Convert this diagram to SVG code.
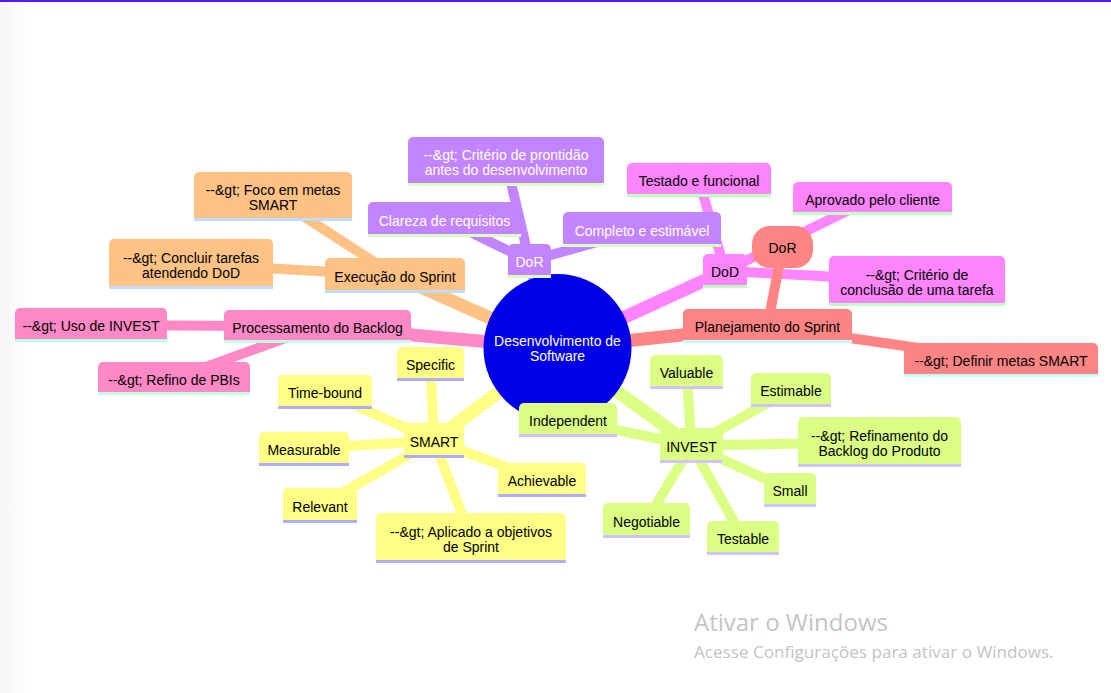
<svg xmlns="http://www.w3.org/2000/svg" width="1111" height="693" viewBox="0 0 1111 693">
<defs>
<linearGradient id="edge" x1="0" y1="0" x2="1" y2="0">
<stop offset="0" stop-color="#f5f5f5"/>
<stop offset="1" stop-color="#ffffff"/>
</linearGradient>
</defs>
<style>
text{font-family:"Liberation Sans",Arial,sans-serif;font-size:14px;text-anchor:middle;fill:#000}
.w{fill:#ffffff}
.o{fill:#FFC285}.os{fill:#BFDCFF}
.p{fill:#FF88C6}.ps{fill:#C2FFE2}
.u{fill:#C385FF}.us{fill:#D9FFC2}
.m{fill:#FF85FF}.ms{fill:#C2FFC2}
.r{fill:#FF8585}.rs{fill:#C2FFFF}
.y{fill:#FFFF85}.ys{fill:#AEAEFF}
.g{fill:#DBFF85}.gs{fill:#D2C2FF}
#edges line{stroke-linecap:butt;fill:none}
.e0{stroke-width:13}.e1{stroke-width:10}
.eo{stroke:#FFC285}.ep{stroke:#FF88C6}.eu{stroke:#C385FF}.em{stroke:#FF85FF}.er{stroke:#FF8585}.ey{stroke:#FFFF85}.eg{stroke:#DBFF85}
text.wm{font-family:"Open Sans","Liberation Sans",sans-serif;text-anchor:start;fill:#c4c4c4}
text.wm1{font-size:24px}
text.wm2{font-size:17.1px}
</style>
<rect x="0" y="0" width="1111" height="693" fill="#ffffff"/>
<rect x="0" y="0" width="30" height="693" fill="url(#edge)"/>
<rect x="0" y="0" width="1111" height="2" fill="#5B17F0"/>

<g id="edges">
<line class="e0 eo" x1="557.5" y1="348" x2="395" y2="275.5"/>
<line class="e0 ep" x1="557.5" y1="348" x2="317.5" y2="326.5"/>
<line class="e0 eu" x1="557.5" y1="348" x2="529.5" y2="261"/>
<line class="e0 em" x1="557.5" y1="348" x2="725" y2="271"/>
<line class="e0 er" x1="557.5" y1="348" x2="767.5" y2="326"/>
<line class="e0 ey" x1="557.5" y1="348" x2="434" y2="440.5"/>
<line class="e0 eg" x1="557.5" y1="348" x2="691.5" y2="445.5"/>
<line class="e1 eo" x1="395" y1="275.5" x2="273" y2="196.5"/>
<line class="e1 eo" x1="395" y1="275.5" x2="191" y2="264"/>
<line class="e1 ep" x1="317.5" y1="326.5" x2="91" y2="325"/>
<line class="e1 ep" x1="317.5" y1="326.5" x2="174" y2="378.5"/>
<line class="e1 eu" x1="529.5" y1="261" x2="506" y2="161.5"/>
<line class="e1 eu" x1="529.5" y1="261" x2="444.5" y2="219.5"/>
<line class="e1 eu" x1="529.5" y1="261" x2="642" y2="229.5"/>
<line class="e1 em" x1="725" y1="271" x2="699" y2="180"/>
<line class="e1 em" x1="725" y1="271" x2="872.5" y2="198.5"/>
<line class="e1 em" x1="725" y1="271" x2="917" y2="281"/>
<line class="e1 er" x1="767.5" y1="326" x2="782.5" y2="247"/>
<line class="e1 er" x1="767.5" y1="326" x2="1001" y2="360"/>
<line class="e1 ey" x1="434" y1="440.5" x2="430.5" y2="364"/>
<line class="e1 ey" x1="434" y1="440.5" x2="325" y2="392"/>
<line class="e1 ey" x1="434" y1="440.5" x2="304" y2="449"/>
<line class="e1 ey" x1="434" y1="440.5" x2="320" y2="505.5"/>
<line class="e1 ey" x1="434" y1="440.5" x2="471" y2="538"/>
<line class="e1 ey" x1="434" y1="440.5" x2="542" y2="480"/>
<line class="e1 eg" x1="691.5" y1="445.5" x2="686.5" y2="372"/>
<line class="e1 eg" x1="691.5" y1="445.5" x2="791" y2="390"/>
<line class="e1 eg" x1="691.5" y1="445.5" x2="568" y2="420"/>
<line class="e1 eg" x1="691.5" y1="445.5" x2="879.5" y2="442"/>
<line class="e1 eg" x1="691.5" y1="445.5" x2="790" y2="490"/>
<line class="e1 eg" x1="691.5" y1="445.5" x2="646.5" y2="520.5"/>
<line class="e1 eg" x1="691.5" y1="445.5" x2="743" y2="538"/>
</g>

<g id="root">
<circle cx="557.5" cy="348" r="74" fill="#0000E8"/>
<text class="w" x="557.5" y="346">Desenvolvimento de</text>
<text class="w" x="557.5" y="361">Software</text>
</g>

<!-- orange -->
<g id="n-foco"><rect class="o" x="194" y="172" width="158" height="46" rx="5"/><rect class="o" x="194" y="195" width="158" height="23"/><rect class="os" x="194" y="218" width="158" height="3"/><text x="273" y="195">--&amp;gt; Foco em metas</text><text x="273" y="210">SMART</text></g>
<g id="n-concluir"><rect class="o" x="109" y="239" width="164" height="47" rx="5"/><rect class="o" x="109" y="262" width="164" height="24"/><rect class="os" x="109" y="286" width="164" height="3"/><text x="191" y="262.5">--&amp;gt; Concluir tarefas</text><text x="191" y="277.5">atendendo DoD</text></g>
<g id="n-exec"><rect class="o" x="325" y="258" width="140" height="32" rx="5"/><rect class="o" x="325" y="274" width="140" height="16"/><rect class="os" x="325" y="290" width="140" height="3"/><text x="395" y="281.5">Execução do Sprint</text></g>

<!-- pink -->
<g id="n-uso"><rect class="p" x="15" y="308" width="152" height="31" rx="5"/><rect class="p" x="15" y="323" width="152" height="16"/><rect class="ps" x="15" y="339" width="152" height="3"/><text x="91" y="331">--&amp;gt; Uso de INVEST</text></g>
<g id="n-proc"><rect class="p" x="224" y="310" width="187" height="30" rx="5"/><rect class="p" x="224" y="325" width="187" height="15"/><rect class="ps" x="224" y="340" width="187" height="3"/><text x="317.5" y="332.5">Processamento do Backlog</text></g>
<g id="n-refino"><rect class="p" x="98" y="362" width="152" height="30" rx="5"/><rect class="p" x="98" y="377" width="152" height="15"/><rect class="ps" x="98" y="392" width="152" height="3"/><text x="174" y="384.5">--&amp;gt; Refino de PBIs</text></g>

<!-- purple -->
<g id="n-crit"><rect class="u" x="408" y="137" width="196" height="46" rx="5"/><rect class="u" x="408" y="160" width="196" height="23"/><rect class="us" x="408" y="183" width="196" height="3"/><text class="w" x="506" y="160">--&amp;gt; Critério de prontidão</text><text class="w" x="506" y="175">antes do desenvolvimento</text></g>
<g id="n-clareza"><rect class="u" x="368" y="202" width="153" height="32" rx="5"/><rect class="u" x="368" y="218" width="153" height="16"/><rect class="us" x="368" y="234" width="153" height="3"/><text class="w" x="444.5" y="225.5">Clareza de requisitos</text></g>
<g id="n-dorP"><rect class="u" x="508" y="244" width="43" height="31" rx="5"/><rect class="u" x="508" y="259" width="43" height="16"/><rect class="us" x="508" y="275" width="43" height="3"/><text class="w" x="529.5" y="267">DoR</text></g>
<g id="n-completo"><rect class="u" x="563" y="212" width="158" height="32" rx="5"/><rect class="u" x="563" y="228" width="158" height="16"/><rect class="us" x="563" y="244" width="158" height="3"/><text class="w" x="642" y="235.5">Completo e estimável</text></g>

<!-- magenta -->
<g id="n-testado"><rect class="m" x="627" y="163" width="144" height="31" rx="5"/><rect class="m" x="627" y="178" width="144" height="16"/><rect class="ms" x="627" y="194" width="144" height="3"/><text x="699" y="186">Testado e funcional</text></g>
<g id="n-aprovado"><rect class="m" x="793" y="182" width="159" height="30" rx="5"/><rect class="m" x="793" y="197" width="159" height="15"/><rect class="ms" x="793" y="212" width="159" height="3"/><text x="872.5" y="204.5">Aprovado pelo cliente</text></g>
<g id="n-dod"><rect class="m" x="703" y="254" width="44" height="31" rx="5"/><rect class="m" x="703" y="269" width="44" height="16"/><rect class="ms" x="703" y="285" width="44" height="3"/><text x="725" y="277">DoD</text></g>
<g id="n-critConc"><rect class="m" x="829" y="256" width="176" height="47" rx="5"/><rect class="m" x="829" y="279" width="176" height="24"/><rect class="ms" x="829" y="303" width="176" height="3"/><text x="917" y="279.5">--&amp;gt; Critério de</text><text x="917" y="294.5">conclusão de uma tarefa</text></g>

<!-- salmon -->
<g id="n-dorS"><rect class="r" x="752" y="226" width="61" height="42" rx="18"/><text x="782.5" y="253">DoR</text></g>
<g id="n-plan"><rect class="r" x="683" y="309" width="169" height="31" rx="5"/><rect class="r" x="683" y="324" width="169" height="16"/><rect class="rs" x="683" y="340" width="169" height="3"/><text x="767.5" y="332">Planejamento do Sprint</text></g>
<g id="n-definir"><rect class="r" x="904" y="343" width="194" height="31" rx="5"/><rect class="r" x="904" y="358" width="194" height="16"/><rect class="rs" x="904" y="374" width="194" height="3"/><text x="1001" y="366">--&amp;gt; Definir metas SMART</text></g>

<!-- yellow -->
<g id="n-specific"><rect class="y" x="397" y="347" width="67" height="31" rx="5"/><rect class="y" x="397" y="362" width="67" height="16"/><rect class="ys" x="397" y="378" width="67" height="3"/><text x="430.5" y="370">Specific</text></g>
<g id="n-timebound"><rect class="y" x="278" y="375" width="94" height="31" rx="5"/><rect class="y" x="278" y="390" width="94" height="16"/><rect class="ys" x="278" y="406" width="94" height="3"/><text x="325" y="398">Time-bound</text></g>
<g id="n-smart"><rect class="y" x="404" y="423" width="60" height="32" rx="5"/><rect class="y" x="404" y="439" width="60" height="16"/><rect class="ys" x="404" y="455" width="60" height="3"/><text x="434" y="446.5">SMART</text></g>
<g id="n-measurable"><rect class="y" x="259" y="432" width="90" height="31" rx="5"/><rect class="y" x="259" y="447" width="90" height="16"/><rect class="ys" x="259" y="463" width="90" height="3"/><text x="304" y="455">Measurable</text></g>
<g id="n-achievable"><rect class="y" x="498" y="463" width="88" height="31" rx="5"/><rect class="y" x="498" y="478" width="88" height="16"/><rect class="ys" x="498" y="494" width="88" height="3"/><text x="542" y="486">Achievable</text></g>
<g id="n-relevant"><rect class="y" x="283" y="488" width="74" height="32" rx="5"/><rect class="y" x="283" y="504" width="74" height="16"/><rect class="ys" x="283" y="520" width="74" height="3"/><text x="320" y="511.5">Relevant</text></g>
<g id="n-aplicado"><rect class="y" x="376" y="513" width="190" height="47" rx="5"/><rect class="y" x="376" y="536" width="190" height="24"/><rect class="ys" x="376" y="560" width="190" height="3"/><text x="471" y="536.5">--&amp;gt; Aplicado a objetivos</text><text x="471" y="551.5">de Sprint</text></g>

<!-- green -->
<g id="n-valuable"><rect class="g" x="650" y="355" width="73" height="31" rx="5"/><rect class="g" x="650" y="370" width="73" height="16"/><rect class="gs" x="650" y="386" width="73" height="3"/><text x="686.5" y="378">Valuable</text></g>
<g id="n-estimable"><rect class="g" x="751" y="373" width="80" height="31" rx="5"/><rect class="g" x="751" y="388" width="80" height="16"/><rect class="gs" x="751" y="404" width="80" height="3"/><text x="791" y="396">Estimable</text></g>
<g id="n-independent"><rect class="g" x="519" y="403" width="98" height="31" rx="5"/><rect class="g" x="519" y="418" width="98" height="16"/><rect class="gs" x="519" y="434" width="98" height="3"/><text x="568" y="426">Independent</text></g>
<g id="n-invest"><rect class="g" x="660" y="428" width="63" height="32" rx="5"/><rect class="g" x="660" y="444" width="63" height="16"/><rect class="gs" x="660" y="460" width="63" height="3"/><text x="691.5" y="451.5">INVEST</text></g>
<g id="n-refinamento"><rect class="g" x="798" y="417" width="163" height="47" rx="5"/><rect class="g" x="798" y="440" width="163" height="24"/><rect class="gs" x="798" y="464" width="163" height="3"/><text x="879.5" y="440.5">--&amp;gt; Refinamento do</text><text x="879.5" y="455.5">Backlog do Produto</text></g>
<g id="n-small"><rect class="g" x="764" y="473" width="52" height="31" rx="5"/><rect class="g" x="764" y="488" width="52" height="16"/><rect class="gs" x="764" y="504" width="52" height="3"/><text x="790" y="496">Small</text></g>
<g id="n-negotiable"><rect class="g" x="603" y="503" width="87" height="32" rx="5"/><rect class="g" x="603" y="519" width="87" height="16"/><rect class="gs" x="603" y="535" width="87" height="3"/><text x="646.5" y="526.5">Negotiable</text></g>
<g id="n-testable"><rect class="g" x="707" y="521" width="72" height="31" rx="5"/><rect class="g" x="707" y="536" width="72" height="16"/><rect class="gs" x="707" y="552" width="72" height="3"/><text x="743" y="544">Testable</text></g>

<g id="watermark">
<text class="wm wm1" x="694" y="631">Ativar o Windows</text>
<text class="wm wm2" x="694" y="658">Acesse Configurações para ativar o Windows.</text>
</g>
</svg>
